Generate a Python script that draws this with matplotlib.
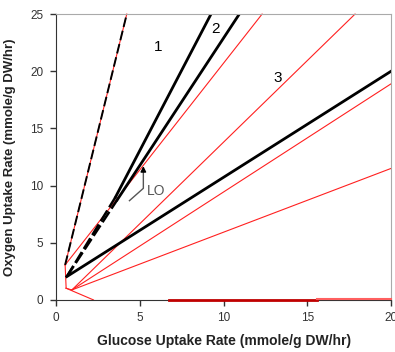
import numpy as np
import matplotlib.pyplot as plt

plt.rcParams['font.family'] = ['Liberation Sans', 'DejaVu Sans']

# red (thin) lines: x and y endpoints
red_x = [
    [0.54, 4.22],    # steep line
    [0.54, 12.3],    # through the LO junction
    [0.94, 17.85],
    [0.94, 20.0],
    [0.94, 20.0],
    [0.54, 0.60],    # short pieces near the origin
    [0.60, 0.94],
    [0.60, 2.23],
]
red_y = [
    [3.06, 25.0],
    [3.06, 25.0],
    [0.87, 25.0],
    [0.87, 18.9],
    [0.87, 11.5],
    [3.06, 1.02],
    [1.02, 0.87],
    [1.02, 0.0],
]
# lines on the x axis
floor1_x = [6.77, 15.6]
floor1_y = [0.0, 0.0]
floor2_x = [15.6, 20.0]
floor2_y = [0.12, 0.12]

# black (thick) lines
steep_x = [0.54, 4.22]
steep_y = [3.06, 25.0]
line1_dash_x = [0.64, 3.55]
line1_dash_y = [2.04, 9.0]
line1_x = [3.55, 9.25]
line1_y = [9.0, 25.0]
line2_dash_x = [0.64, 3.65]
line2_dash_y = [2.04, 8.75]
line2_x = [3.65, 10.94]
line2_y = [8.75, 25.0]
line3_x = [0.64, 20.0]
line3_y = [2.04, 20.0]

labels = ['1', '2', '3']
label_x = [6.1, 9.5, 13.25]
label_y = [22.1, 23.7, 19.4]

fig = plt.figure(figsize=(3.95, 3.52), dpi=100)
ax = fig.add_axes([0.142, 0.148, 0.848, 0.812])

for xs, ys in zip(red_x, red_y):
    ax.plot(xs, ys, color='#ff2020', lw=0.8, clip_on=False)
ax.plot(floor1_x, floor1_y, color='#c00000', lw=2.0, clip_on=False, zorder=3)
ax.plot(floor2_x, floor2_y, color='#ff6060', lw=1.5, clip_on=False, zorder=3)

ax.plot(steep_x, steep_y, color='black', lw=1.4, dashes=(5, 2))
ax.plot(line1_dash_x, line1_dash_y, color='black', lw=1.8, dashes=(5, 1.5))
ax.plot(line2_dash_x, line2_dash_y, color='black', lw=1.8, dashes=(5, 1.5))
ax.plot(line1_x, line1_y, color='black', lw=2)
ax.plot(line2_x, line2_y, color='black', lw=2)
ax.plot(line3_x, line3_y, color='black', lw=2)

for t, x, y in zip(labels, label_x, label_y):
    ax.text(x, y, t, fontsize=11, ha='center', va='center')

# LO arrow
ax.plot([4.38, 5.21, 5.21], [8.68, 9.76, 11.2], color='#555555', lw=1)
ax.annotate('', xy=(5.21, 11.95), xytext=(5.21, 11.0),
            arrowprops=dict(arrowstyle='-|>', color='black', lw=1, mutation_scale=8))
ax.text(5.45, 9.5, 'LO', fontsize=10, color='#555555', va='center')

ax.set_xlim(0, 20)
ax.set_ylim(0, 25)
ax.set_xticks([0, 5, 10, 15, 20])
ax.set_yticks([0, 5, 10, 15, 20, 25])
ax.tick_params(direction='out', length=4, width=1, labelsize=8.5,
               labelcolor='#333333', color='#333333', pad=5)
for s in ['left', 'bottom']:
    ax.spines[s].set_color('#333333')
for s in ['top', 'right']:
    ax.spines[s].set_color('#aaaaaa')

ax.set_xlabel('Glucose Uptake Rate (mmole/g DW/hr)', fontsize=10,
              fontweight='bold', color='#222222', labelpad=7)
ax.set_ylabel('Oxygen Uptake Rate (mmole/g DW/hr)', fontsize=9.5,
              fontweight='bold', color='#222222', labelpad=10)

fig.savefig('out.png', dpi=100)
